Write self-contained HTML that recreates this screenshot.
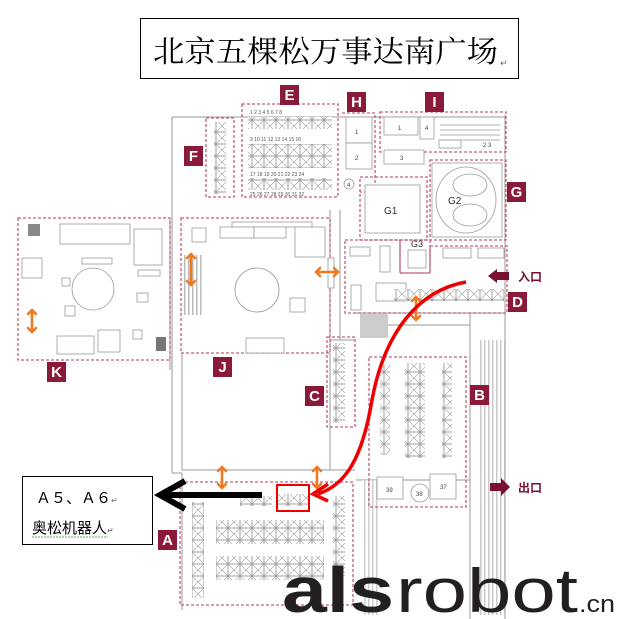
<!DOCTYPE html>
<html><head><meta charset="utf-8"><style>
html,body{margin:0;padding:0;background:#fff}
svg{display:block}
text{font-family:"Liberation Sans","Noto Sans CJK SC",sans-serif}
</style></head><body>
<svg width="619" height="619" viewBox="0 0 619 619" xmlns="http://www.w3.org/2000/svg">
<defs>
<pattern id="x" width="12" height="12" patternUnits="userSpaceOnUse">
<rect width="12" height="12" fill="#fff" stroke="#888" stroke-width="0.8"/>
<path d="M0 0L12 12M12 0L0 12" stroke="#999" stroke-width="0.6"/>
</pattern>
<pattern id="st" width="4" height="10" patternUnits="userSpaceOnUse">
<rect width="4" height="10" fill="#fff"/><rect width="1.5" height="10" fill="#bbb"/>
</pattern>
</defs>
<rect width="619" height="619" fill="#fff"/>
<!-- title -->
<rect x="140.5" y="18.5" width="378" height="60" fill="#fff" stroke="#000"/>
<text x="153" y="62" font-size="30" fill="#000" textLength="345" lengthAdjust="spacingAndGlyphs" style="font-family:'Noto Serif CJK SC','Noto Sans CJK SC',serif">北京五棵松万事达南广场</text>
<text x="500" y="66" font-size="9" fill="#666">↵</text>

<!-- building outlines -->
<g fill="none" stroke="#999" stroke-width="1">
<path d="M172 117H506M172 117V473M182 473V610M172 473H182"/>
<path d="M330 210V340M340 210V340M330 340H355"/>
<path d="M182 353V470H330V420M182 470H355M330 340V470"/>
<path d="M355 313H505M360 325H470M470 313V620M505 115V620M356 480H470"/>
<path d="M170 218V370"/>
</g>
<rect x="478" y="340" width="27" height="275" fill="url(#st)" opacity="0.8"/>
<rect x="362" y="480" width="18" height="135" fill="url(#st)" opacity="0.7"/>
<rect x="360" y="314" width="28" height="24" fill="#ccc"/>

<!-- zones dashed -->
<g fill="none" stroke="#c0607a" stroke-width="1.3" stroke-dasharray="3 2">
<rect x="242" y="104" width="96" height="93"/>
<rect x="206" y="118" width="28" height="79"/>
<path d="M342 113H375V192H360"/>
<rect x="380" y="112" width="126" height="40"/>
<rect x="430" y="160" width="76" height="80"/>
<path d="M360 177H427V240H360Z"/>
<rect x="400" y="240" width="30" height="33"/>
<rect x="181" y="218" width="149" height="135"/>
<rect x="18" y="218" width="152" height="142"/>
<path d="M345 240H400V273H430V246H507V313H345Z"/>
<rect x="327" y="337" width="28" height="90"/>
<rect x="369" y="357" width="97" height="150"/>
<rect x="180" y="482" width="173" height="123"/>
</g>

<!-- E grids -->
<rect x="248" y="117" width="84" height="12" fill="url(#x)"/>
<rect x="248" y="144" width="84" height="24" fill="url(#x)"/>
<rect x="248" y="178" width="84" height="12" fill="url(#x)"/>
<g font-size="5" fill="#555">
<text x="250" y="114">1  2  3  4  5  6  7  8</text>
<text x="250" y="141">9 10 11 12 13 14 15 16</text>
<text x="250" y="176">17 18 19 20 21 22 23 24</text>
<text x="250" y="196">25 26 27 28 29 30 31 32</text>
</g>
<rect x="214" y="122" width="12" height="72" fill="url(#x)"/>
<!-- H I G -->
<g fill="#fff" stroke="#999" stroke-width="0.8">
<rect x="346" y="117" width="26" height="26"/><rect x="346" y="143" width="26" height="26"/>
<circle cx="349" cy="184" r="5"/>
<rect x="384" y="117" width="34" height="18"/><rect x="420" y="117" width="14" height="22"/>
<rect x="384" y="150" width="40" height="14"/>
<rect x="365" y="185" width="55" height="48"/>
<rect x="432" y="163" width="70" height="74"/>
<ellipse cx="466" cy="200" rx="30" ry="33"/>
<ellipse cx="470" cy="185" rx="17" ry="11"/><ellipse cx="470" cy="215" rx="17" ry="11"/>
<rect x="408" y="250" width="18" height="18"/>
<rect x="350" y="247" width="20" height="9"/><rect x="380" y="246" width="10" height="26"/>
<rect x="376" y="283" width="30" height="18"/><rect x="351" y="285" width="10" height="25"/>
<rect x="443" y="248" width="28" height="10"/><rect x="478" y="248" width="26" height="10"/>
</g>
<g stroke="#999" stroke-width="0.8"><path d="M440 125H500M440 130H500M440 135H500M440 140H500"/></g>
<rect x="439" y="140" width="22" height="8" fill="#fff" stroke="#999" stroke-width="0.8"/>
<rect x="394" y="289" width="110" height="12" fill="url(#x)"/>
<g font-size="6" fill="#444">
<text x="355" y="134">1</text><text x="355" y="160">2</text><text x="347" y="187">4</text>
<text x="398" y="130">1</text><text x="425" y="130">4</text><text x="400" y="160">3</text>
<text x="483" y="147">2 3</text>
</g>
<text x="384" y="214" font-size="10" fill="#333">G1</text>
<text x="448" y="204" font-size="10" fill="#333">G2</text>
<text x="411" y="247" font-size="9" fill="#333">G3</text>

<!-- J -->
<g fill="#fff" stroke="#999" stroke-width="0.8">
<rect x="232" y="222" width="80" height="5"/>
<rect x="220" y="227" width="34" height="11"/><rect x="254" y="227" width="32" height="11"/>
<rect x="295" y="227" width="30" height="30"/>
<circle cx="257" cy="290" r="22"/>
<rect x="290" y="298" width="15" height="14"/>
<rect x="246" y="338" width="38" height="15"/>
<rect x="192" y="228" width="14" height="14"/>
<rect x="328" y="258" width="6" height="30"/>
</g>
<rect x="184" y="255" width="20" height="60" fill="url(#st)"/>
<!-- K -->
<g fill="#fff" stroke="#999" stroke-width="0.8">
<rect x="60" y="224" width="70" height="20"/><rect x="134" y="229" width="28" height="36"/>
<rect x="22" y="258" width="20" height="20"/>
<circle cx="93" cy="289" r="21"/>
<rect x="57" y="336" width="37" height="18"/><rect x="98" y="330" width="22" height="22"/>
<rect x="62" y="278" width="8" height="8"/><rect x="65" y="306" width="10" height="10"/>
<rect x="137" y="293" width="11" height="9"/><rect x="133" y="330" width="9" height="9"/>
<rect x="138" y="270" width="22" height="6"/><rect x="82" y="258" width="30" height="6"/>
</g>
<rect x="28" y="224" width="12" height="12" fill="#888"/>
<rect x="156" y="337" width="10" height="14" fill="#777"/>
<!-- C -->
<rect x="333" y="343" width="12" height="80" fill="url(#x)"/>
<!-- B -->
<rect x="380" y="365" width="10" height="90" fill="url(#x)"/>
<rect x="405" y="363" width="20" height="95" fill="url(#x)"/>
<rect x="442" y="363" width="10" height="95" fill="url(#x)"/>
<g fill="#fff" stroke="#999" stroke-width="0.8">
<rect x="377" y="477" width="26" height="22"/><circle cx="420" cy="493" r="9"/><rect x="430" y="474" width="26" height="25"/>
</g>
<g font-size="6" fill="#444"><text x="386" y="492">39</text><text x="416" y="496">38</text><text x="440" y="489">37</text></g>
<!-- A -->
<rect x="240" y="496" width="32" height="10" fill="url(#x)"/>
<rect x="278" y="494" width="30" height="12" fill="url(#x)"/>
<rect x="192" y="502" width="12" height="96" fill="url(#x)"/>
<rect x="333" y="496" width="12" height="80" fill="url(#x)"/>
<rect x="216" y="520" width="108" height="24" fill="url(#x)"/>
<rect x="216" y="556" width="108" height="24" fill="url(#x)"/>
<!-- red box -->
<rect x="277" y="485" width="32" height="26" fill="none" stroke="#e00" stroke-width="2"/>

<!-- orange arrows -->
<g stroke="#f07820" stroke-width="2.5" fill="none" stroke-linecap="round">
<path d="M191 254V285M187 258L191 254L195 258M187 281L191 285L195 281"/>
<path d="M32 310V332M28 314L32 310L36 314M28 328L32 332L36 328"/>
<path d="M316 272H338M320 268L316 272L320 276M334 268L338 272L334 276"/>
<path d="M416 297V320M412 301L416 297L420 301M412 316L416 320L420 316"/>
<path d="M222 467V488M218 471L222 467L226 471M218 484L222 488L226 484"/>
<path d="M317 467V488M313 471L317 467L321 471M313 484L317 488L321 484"/>
</g>

<!-- red curve -->
<path d="M466 282C420 290 385 330 372 400C362 460 345 485 318 494" fill="none" stroke="#e00" stroke-width="3.5"/>
<path d="M328 484L313 494L328 501" fill="none" stroke="#e00" stroke-width="3.5"/>

<!-- black arrow -->
<path d="M262 495H162" stroke="#000" stroke-width="6"/>
<path d="M185 481L160 495L185 509" fill="none" stroke="#000" stroke-width="6"/>

<!-- left text box -->
<rect x="22.5" y="476.5" width="130" height="68" fill="#fff" stroke="#000"/>
<text x="36" y="503" font-size="15" fill="#000">Ａ５、Ａ６<tspan font-size="8" fill="#666">↵</tspan></text>
<text x="32" y="533" font-size="15" fill="#000">奥松机器人<tspan font-size="8" fill="#666">↵</tspan></text>
<path d="M32 537H108" stroke="#6a6" stroke-width="1" stroke-dasharray="2 1"/>

<!-- entry/exit -->
<rect x="495" y="272" width="14" height="8" fill="#7a1030"/>
<path d="M488 276L497 269V283Z" fill="#7a1030"/>
<text x="518" y="281" font-size="12" font-weight="bold" fill="#7a1030">入口</text>
<rect x="490" y="483" width="12" height="8" fill="#7a1030"/>
<path d="M501 478L510 487L501 496Z" fill="#7a1030"/>
<text x="518" y="492" font-size="12" font-weight="bold" fill="#7a1030">出口</text>

<!-- zone labels -->
<g font-size="15" font-weight="bold" fill="#fff" text-anchor="middle">
<rect x="280" y="85" width="19" height="20" fill="#8b1a3a"/><text x="289.5" y="100">E</text>
<rect x="347" y="92" width="19" height="20" fill="#8b1a3a"/><text x="356.5" y="107">H</text>
<rect x="425" y="92" width="19" height="20" fill="#8b1a3a"/><text x="434.5" y="107">I</text>
<rect x="184" y="146" width="19" height="20" fill="#8b1a3a"/><text x="193.5" y="161">F</text>
<rect x="507" y="182" width="19" height="20" fill="#8b1a3a"/><text x="516.5" y="197">G</text>
<rect x="508" y="292" width="19" height="20" fill="#8b1a3a"/><text x="517.5" y="307">D</text>
<rect x="305" y="386" width="19" height="20" fill="#8b1a3a"/><text x="314.5" y="401">C</text>
<rect x="470" y="385" width="19" height="20" fill="#8b1a3a"/><text x="479.5" y="400">B</text>
<rect x="47" y="362" width="19" height="20" fill="#8b1a3a"/><text x="56.5" y="377">K</text>
<rect x="213" y="357" width="19" height="20" fill="#8b1a3a"/><text x="222.5" y="372">J</text>
<rect x="158" y="530" width="19" height="20" fill="#8b1a3a"/><text x="167.5" y="545">A</text>
</g>

<!-- logo -->
<text x="282" y="612" font-size="64" font-weight="bold" fill="#231f20" textLength="112" lengthAdjust="spacingAndGlyphs">als</text>
<text x="396" y="612" font-size="62" fill="#231f20" textLength="182" lengthAdjust="spacingAndGlyphs">robot</text>
<text x="579" y="612" font-size="24" fill="#231f20" textLength="36" lengthAdjust="spacingAndGlyphs">.cn</text>
</svg>
</body></html>
